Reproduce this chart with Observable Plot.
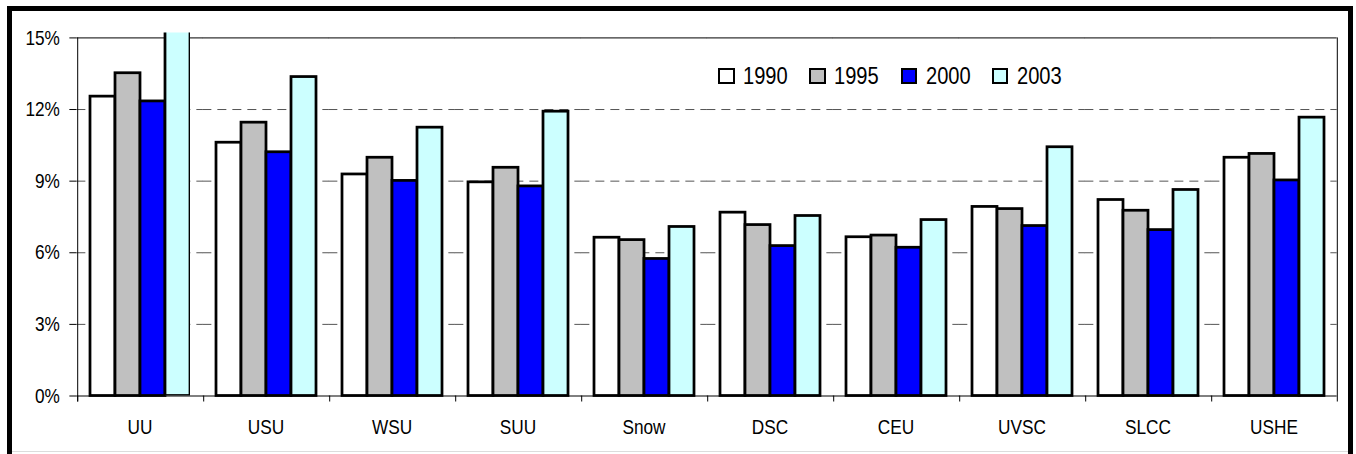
<!DOCTYPE html>
<html>
<head>
<meta charset="utf-8">
<script src="https://cdn.jsdelivr.net/npm/d3@7"></script>
<script src="https://cdn.jsdelivr.net/npm/@observablehq/plot@0.6"></script>
<style>
  html, body { margin: 0; padding: 0; background: #fff; }
  #wrap { position: relative; width: 1356px; height: 454px; overflow: hidden; background: #fff; }
  #border { position: absolute; left: 7px; top: 6px; width: 1336px; height: 470px; border: 5px solid #000; box-sizing: content-box; pointer-events: none; }
  #bottomline { position: absolute; left: 12px; top: 451px; width: 1336px; height: 1px; background: #dcdcdc; }
  #chart { position: absolute; left: 0; top: 0; }
  #legend { position: absolute; left: 0; top: 0; font-family: "Liberation Sans", Arial, sans-serif; font-size: 24.5px; color: #000; }
  .item { position: absolute; top: 62px; height: 28px; }
  .sw { position: absolute; left: 0; top: 5.5px; width: 12.5px; height: 12.5px; border: 2px solid #000; }
  .lab { position: absolute; left: 25px; top: 0; line-height: 28px; white-space: nowrap; transform: scaleX(0.82); transform-origin: 0 50%; }
</style>
</head>
<body>
<div id="wrap">
  <div id="chart"></div>
  <div id="bottomline"></div>
  <div id="border"></div>
  <div id="legend"></div>
</div>
<script>
const categories = ["UU", "USU", "WSU", "SUU", "Snow", "DSC", "CEU", "UVSC", "SLCC", "USHE"];
const years = ["1990", "1995", "2000", "2003"];
const colors = ["#FFFFFF", "#C0C0C0", "#0000FF", "#CCFFFF"];
const v1990 = [12.54, 10.61, 9.28, 8.95, 6.63, 7.68, 6.65, 7.92, 8.21, 9.98];
const v1995 = [13.52, 11.45, 9.98, 9.56, 6.53, 7.16, 6.72, 7.83, 7.76, 10.14];
const v2000 = [12.34, 10.21, 9.01, 8.78, 5.74, 6.28, 6.21, 7.12, 6.95, 9.03];
const v2003 = [16.0, 13.36, 11.24, 11.91, 7.08, 7.54, 7.37, 10.42, 8.63, 11.66];
const series = [v1990, v1995, v2000, v2003];
const yTicks = [0, 3, 6, 9, 12, 15];
const gridTicks = [3, 6, 9, 12];

const rows = categories.flatMap((c, i) => years.map((y, j) => ({category: c, year: y, value: series[j][i]})));

const W = 1356, H = 454, mL = 74, mR = 17, mT = 32.4, mB = 58.5;
const padIn = 0.2, padOut = 0.1;
const yMax = 15.21;
const step = (W - mL - mR) / (categories.length - padIn + 2 * padOut);
const halfGap = step * padIn / 2;
const barW = step * (1 - padIn) / years.length;
const FONT = '"Liberation Sans", Arial, sans-serif';

const chart = Plot.plot({
  width: W, height: H,
  marginLeft: mL, marginRight: mR, marginTop: mT, marginBottom: mB,
  style: {fontFamily: FONT, fontSize: "21px", color: "#000", background: "transparent"},
  fx: {domain: categories, paddingInner: padIn, paddingOuter: padOut, label: null},
  x: {domain: years, padding: 0, axis: null},
  y: {domain: [0, yMax], axis: null},
  color: {domain: years, range: colors},
  marks: [
    Plot.ruleY(gridTicks, {stroke: "#555", strokeDasharray: "9,6", insetLeft: -halfGap, insetRight: -halfGap}),
    Plot.ruleY([15], {stroke: "#000", insetLeft: -halfGap, insetRight: -halfGap}),
    Plot.barY(rows.filter(d => d.value <= yMax), {fx: "category", x: "year", y: "value", fill: "year", stroke: "#000", strokeWidth: 2.75}),
    Plot.barY(rows.filter(d => d.value > yMax), {fx: "category", x: "year", y: "value", fill: "year", stroke: "#000", strokeWidth: 2.75, clip: true}),
    Plot.ruleY([0], {stroke: "#000", insetLeft: -halfGap, insetRight: -halfGap}),
    Plot.ruleX(categories, {fx: d => d, x: () => years[0], dx: -barW, y1: 0, y2: 0, insetBottom: -6, stroke: "#000"}),
    Plot.ruleX([categories[0]], {fx: d => d, x: () => years[0], dx: -barW, y1: 15, y2: 0, insetBottom: -6, stroke: "#000"}),
    Plot.ruleX([categories[categories.length - 1]], {fx: d => d, x: () => years[years.length - 1], dx: barW, y1: 15, y2: 0, insetBottom: -6, stroke: "#000"}),
    Plot.axisY(yTicks, {anchor: "left", label: null, tickSize: 7, tickPadding: 10, dx: -halfGap, tickFormat: d => d + "%", fontSize: 21, stroke: "#000"}),
    Plot.axisFx({anchor: "bottom", label: null, tickSize: 0, tickPadding: 23, fontSize: 21})
  ]
});
document.getElementById("chart").appendChild(chart);

// narrow the Arial-metric glyphs to an Arial Narrow look
chart.querySelectorAll("text").forEach(t => {
  const w = t.getComputedTextLength();
  if (w > 0) {
    t.setAttribute("textLength", (w * 0.82).toFixed(2));
    t.setAttribute("lengthAdjust", "spacingAndGlyphs");
  }
});

const legend = document.getElementById("legend");
years.forEach((y, j) => {
  const item = document.createElement("div");
  item.className = "item";
  item.style.left = (718 + j * 91.3) + "px";
  const sw = document.createElement("div");
  sw.className = "sw";
  sw.style.background = colors[j];
  const t = document.createElement("span");
  t.className = "lab";
  t.textContent = y;
  item.appendChild(sw);
  item.appendChild(t);
  legend.appendChild(item);
});
</script>
</body>
</html>
